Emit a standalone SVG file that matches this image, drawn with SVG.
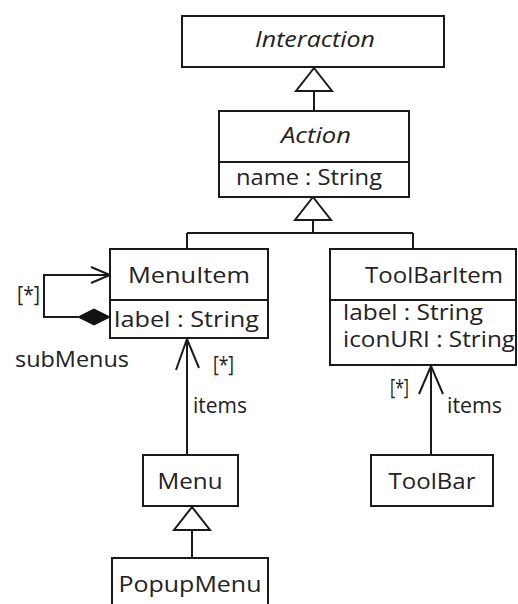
<svg xmlns="http://www.w3.org/2000/svg" width="518" height="604" viewBox="0 0 518 604">
<style>
.box{fill:#fff;stroke:#1a1a1a;stroke-width:2}
.ln{fill:none;stroke:#1a1a1a;stroke-width:2}
.tri{fill:#fff;stroke:#1a1a1a;stroke-width:2;stroke-linejoin:miter}
text{font-family:"Open Sans","DejaVu Sans",sans-serif;font-size:21px;fill:#222}
.c{text-anchor:middle}
.i{font-style:italic}
</style>
<rect width="518" height="604" fill="#fff"/>
<g id="connectors">
  <path class="ln" d="M314 91 V111"/>
  <path class="ln" d="M313 220 V233 M187 233 H413 M187 233 V249 M413 233 V249"/>
  <polygon class="tri" points="314,68 296,91 332,91"/>
  <polygon class="tri" points="313,197 295,220 331,220"/>
  <path class="ln" d="M110 275 H44 V317 H78"/>
  <path class="ln" d="M91 267 L110 275 L91 283"/>
  <polygon points="78,317 94,309 110,317 94,325" fill="#111" stroke="#111" stroke-width="1"/>
  <path class="ln" d="M187 339 V455"/>
  <path class="ln" d="M176 370 L187 339 L199 368"/>
  <path class="ln" d="M192 530 V558"/>
  <polygon class="tri" points="192,507 174,530 210,530"/>
  <path class="ln" d="M431 366 V455"/>
  <path class="ln" d="M419 394 L431 366 L443 394"/>
  <text x="17" y="302" textLength="23" lengthAdjust="spacingAndGlyphs">[*]</text>
  <text x="15" y="367" textLength="114" lengthAdjust="spacingAndGlyphs">subMenus</text>
  <text x="213" y="372" textLength="21" lengthAdjust="spacingAndGlyphs">[*]</text>
  <text x="193" y="413" textLength="54" lengthAdjust="spacingAndGlyphs">items</text>
  <text x="390" y="395" textLength="19" lengthAdjust="spacingAndGlyphs">[*]</text>
  <text x="447" y="413" textLength="55" lengthAdjust="spacingAndGlyphs">items</text>
</g>
<g id="Interaction">
  <rect class="box" x="182" y="16" width="262" height="51"/>
  <text class="c i" x="315" y="47" textLength="120" lengthAdjust="spacingAndGlyphs">Interaction</text>
</g>
<g id="Action">
  <rect class="box" x="219" y="111" width="190" height="86"/>
  <path class="ln" d="M219 162 H409"/>
  <text class="c i" x="316" y="143" textLength="70" lengthAdjust="spacingAndGlyphs">Action</text>
  <text class="c" x="309" y="185" textLength="146" lengthAdjust="spacingAndGlyphs">name : String</text>
</g>
<g id="MenuItem">
  <rect class="box" x="110" y="249" width="158" height="89"/>
  <path class="ln" d="M110 300 H268"/>
  <text class="c" x="189" y="283" textLength="122" lengthAdjust="spacingAndGlyphs">MenuItem</text>
  <text x="114" y="327" textLength="145" lengthAdjust="spacingAndGlyphs">label : String</text>
</g>
<g id="ToolBarItem">
  <rect class="box" x="330" y="249" width="186" height="116"/>
  <path class="ln" d="M330 300 H516"/>
  <text class="c" x="434" y="283" textLength="138" lengthAdjust="spacingAndGlyphs">ToolBarItem</text>
  <text x="343" y="320" textLength="140" lengthAdjust="spacingAndGlyphs">label : String</text>
  <text x="343" y="347" textLength="172" lengthAdjust="spacingAndGlyphs">iconURI : String</text>
</g>
<g id="Menu">
  <rect class="box" x="143" y="455" width="95" height="51"/>
  <text class="c" x="190" y="489" textLength="65" lengthAdjust="spacingAndGlyphs">Menu</text>
</g>
<g id="ToolBar">
  <rect class="box" x="371" y="455" width="122" height="51"/>
  <text class="c" x="432" y="489" textLength="87" lengthAdjust="spacingAndGlyphs">ToolBar</text>
</g>
<g id="PopupMenu">
  <rect class="box" x="112" y="558" width="156" height="60"/>
  <text class="c" x="190" y="592" textLength="143" lengthAdjust="spacingAndGlyphs">PopupMenu</text>
</g>
</svg>
